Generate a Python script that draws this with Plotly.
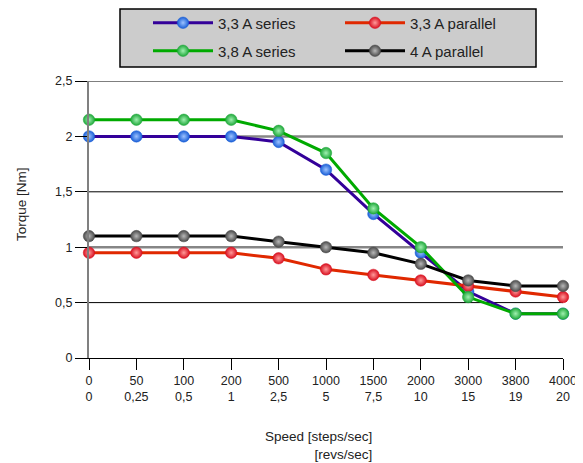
import plotly.graph_objects as go

# === Data ===
steps = ["0", "50", "100", "200", "500", "1000", "1500", "2000", "3000", "3800", "4000"]
revs = ["0", "0,25", "0,5", "1", "2,5", "5", "7,5", "10", "15", "19", "20"]
y_ticks = [0, 0.5, 1, 1.5, 2, 2.5]

series_33 = [2.0, 2.0, 2.0, 2.0, 1.95, 1.7, 1.3, 0.95, 0.6, 0.4, 0.4]
parallel_33 = [0.95, 0.95, 0.95, 0.95, 0.9, 0.8, 0.75, 0.7, 0.65, 0.6, 0.55]
series_38 = [2.15, 2.15, 2.15, 2.15, 2.05, 1.85, 1.35, 1.0, 0.55, 0.4, 0.4]
parallel_4 = [1.1, 1.1, 1.1, 1.1, 1.05, 1.0, 0.95, 0.85, 0.7, 0.65, 0.65]

FONT = "Liberation Sans, Arial, sans-serif"

# name, values, line colour, marker colour, highlight colour, legend
traces = [
    ("3,3 A series", series_33, "#330099", "#1a5fd6", "#9cc2ff", "legend"),
    ("3,3 A parallel", parallel_33, "#e02800", "#d81020", "#ff9a9a", "legend"),
    ("3,8 A series", series_38, "#00aa00", "#1fa83a", "#a0f0b0", "legend2"),
    ("4 A parallel", parallel_4, "#000000", "#4a4a4a", "#b8b8b8", "legend2"),
]

fig = go.Figure()
for name, vals, lc, mc, hc, lg in traces:
    fig.add_trace(go.Scatter(
        x=steps, y=vals, name=name, mode="lines+markers",
        line=dict(color=lc, width=3),
        marker=dict(size=11.5, color=mc, gradient=dict(type="radial", color=hc),
                    line=dict(color=mc, width=0.5)),
        cliponaxis=False, legend=lg,
    ))

# page body has an 8px margin, so the figure is drawn 8px smaller
OFF = 8
W, H = 583 - OFF, 463 - OFF
# plot area in reference pixels: x 89..563, y 81..358
L, T, pw, ph = 89, 81, 474, 277

def px(xc):
    return (xc - L) / pw

def py(yc):
    return (T + ph - yc) / ph

legend_style = dict(
    orientation="h", xref="paper", yref="paper",
    xanchor="left", yanchor="middle",
    bgcolor="rgba(0,0,0,0)", borderwidth=0, itemwidth=60,
    entrywidth=117, font=dict(size=15, family=FONT, color="#222222"),
)

fig.update_layout(
    width=W, height=H,
    margin=dict(l=L - OFF, r=W - (L - OFF) - pw, t=T - OFF, b=H - (T - OFF) - ph,
                autoexpand=False),
    paper_bgcolor="white", plot_bgcolor="rgba(0,0,0,0)",
    separators=",.",
    font=dict(family=FONT, color="#222222"),
    xaxis=dict(
        type="category", categoryorder="array", categoryarray=steps,
        range=[0, len(steps) - 1], automargin=False,
        tickmode="array", tickvals=steps,
        ticktext=[f"{s}<br>{r}" for s, r in zip(steps, revs)],
        ticks="outside", ticklen=11, tickcolor="black", tickwidth=1,
        showgrid=False, showline=True, linecolor="black", linewidth=1,
        tickfont=dict(size=12.5, family=FONT, color="#222222"),
    ),
    yaxis=dict(
        range=[0, 2.5], tickmode="array", tickvals=y_ticks, automargin=False,
        showgrid=False,
        ticks="outside", ticklen=12, tickcolor="black", tickwidth=1,
        showline=True, linecolor="#808080", linewidth=2,
        zeroline=False,
        tickfont=dict(size=12.5, family=FONT, color="#222222"),
    ),
    legend=dict(legend_style, x=px(148), y=py(23)),
    legend2=dict(legend_style, x=px(148), y=py(51)),
)

# gridlines: thin black at the half steps, heavier gray at whole numbers
for yv in y_ticks:
    if yv == 0:
        continue
    whole = yv % 1 == 0
    fig.add_shape(type="line", xref="paper", yref="y", x0=0, x1=1, y0=yv, y1=yv,
                  line=dict(color="#868686" if whole else "black", width=2.5 if whole else 1),
                  layer="below")

# legend box
fig.add_shape(type="rect", xref="paper", yref="paper",
              x0=px(120), x1=px(536), y0=py(67), y1=py(9),
              fillcolor="#cccccc", line=dict(color="black", width=1.5), layer="above")

# axis titles
fig.add_annotation(text="Speed [steps/sec]<br>[revs/sec]", align="right",
                   xref="paper", yref="paper", x=px(374), y=py(427),
                   xanchor="right", yanchor="top", showarrow=False,
                   font=dict(size=13.5, family=FONT, color="#222222"))
fig.add_annotation(text="Torque [Nm]", textangle=-90,
                   xref="paper", yref="paper", x=px(21), y=py(204),
                   xanchor="center", yanchor="middle", showarrow=False,
                   font=dict(size=13.5, family=FONT, color="#222222"))

fig.write_html("out.html")
